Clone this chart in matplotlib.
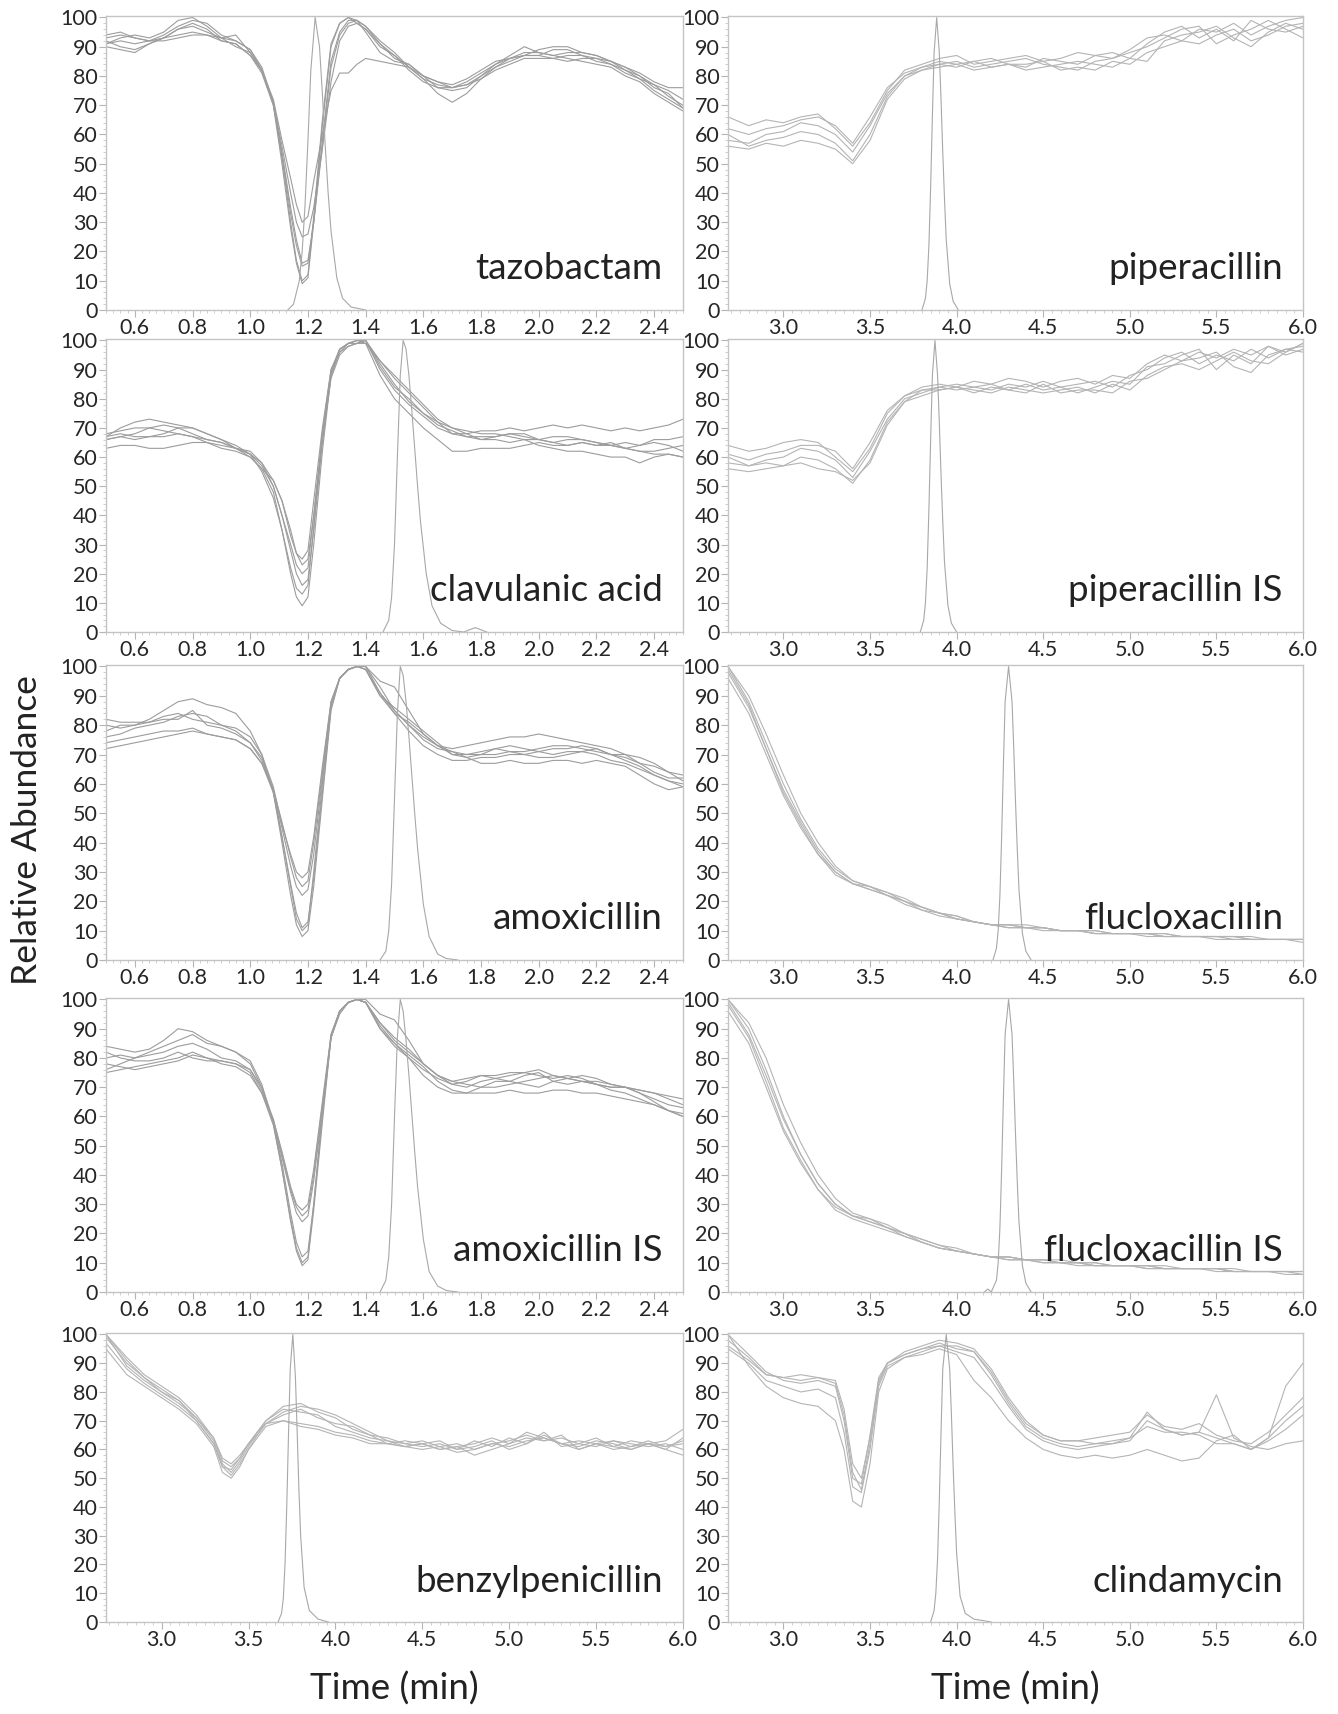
import numpy as np
import matplotlib
matplotlib.use("Agg")
import matplotlib.pyplot as plt
from matplotlib.ticker import MultipleLocator

plt.rcParams['font.family'] = ['Lato', 'DejaVu Sans']

# time grids (min)
t_early = [0.50, 0.55, 0.60, 0.65, 0.70, 0.75, 0.80, 0.85, 0.90, 0.95, 1.00, 1.04, 1.08, 1.11, 1.14, 1.16,
           1.18, 1.20, 1.22, 1.25, 1.28, 1.31, 1.34, 1.37, 1.40, 1.45, 1.50, 1.55, 1.60, 1.65, 1.70, 1.75,
           1.80, 1.85, 1.90, 1.95, 2.00, 2.05, 2.10, 2.15, 2.20, 2.25, 2.30, 2.35, 2.40, 2.45, 2.50]
t_late = [2.68, 2.8, 2.9, 3.0, 3.1, 3.2, 3.3, 3.4, 3.5, 3.6, 3.7, 3.8, 3.9, 4.0, 4.1, 4.2, 4.3, 4.4,
          4.5, 4.6, 4.7, 4.8, 4.9, 5.0, 5.1, 5.2, 5.3, 5.4, 5.5, 5.6, 5.7, 5.8, 5.9, 6.0]
t_dip = [2.68, 2.8, 2.9, 3.0, 3.1, 3.2, 3.3, 3.35, 3.4, 3.45, 3.5, 3.55, 3.6, 3.7, 3.8, 3.9, 4.0, 4.1,
         4.2, 4.3, 4.4, 4.5, 4.6, 4.7, 4.8, 4.9, 5.0, 5.1, 5.2, 5.3, 5.4, 5.5, 5.6, 5.7, 5.8, 5.9, 6.0]

# tazobactam matrix-effect traces
tazo = [
    [91, 93, 94, 93, 95, 99, 100, 97, 93, 94, 88, 82, 70, 50, 28, 16, 9, 11, 30, 63, 90, 98, 100, 99, 95, 88, 85, 84, 80, 76, 75, 76, 80, 84, 87, 90, 88, 87, 86, 85, 84, 83, 80, 78, 74, 71, 68],
    [94, 95, 93, 92, 94, 97, 99, 98, 94, 92, 89, 83, 71, 52, 30, 17, 10, 12, 32, 65, 91, 98, 100, 98, 96, 90, 87, 82, 78, 76, 76, 78, 81, 84, 86, 87, 89, 90, 90, 88, 87, 85, 83, 80, 77, 73, 70],
    [92, 90, 89, 91, 93, 96, 98, 96, 92, 91, 87, 81, 70, 53, 33, 22, 15, 16, 30, 58, 85, 95, 99, 99, 97, 91, 86, 84, 80, 78, 77, 79, 82, 85, 86, 88, 88, 87, 88, 88, 87, 85, 82, 80, 76, 74, 69],
    [90, 89, 88, 91, 93, 96, 97, 95, 93, 90, 88, 82, 71, 54, 35, 24, 16, 17, 30, 56, 83, 94, 98, 99, 97, 92, 88, 83, 79, 74, 71, 74, 79, 83, 85, 87, 87, 86, 85, 86, 86, 84, 81, 79, 77, 75, 72],
    [93, 94, 93, 92, 93, 94, 95, 94, 92, 91, 87, 82, 71, 56, 40, 30, 25, 26, 35, 55, 78, 92, 97, 98, 96, 91, 87, 83, 79, 77, 76, 77, 80, 83, 86, 87, 87, 89, 89, 87, 85, 84, 82, 79, 75, 72, 69],
    [91, 92, 91, 92, 92, 93, 94, 94, 93, 92, 89, 82, 72, 58, 45, 36, 30, 32, 44, 60, 75, 81, 81, 84, 86, 85, 84, 83, 80, 78, 76, 77, 79, 82, 84, 86, 86, 86, 87, 87, 86, 85, 83, 81, 78, 76, 76],
]
tazo_peak_t = [1.13, 1.15, 1.17, 1.18, 1.19, 1.20, 1.21, 1.225, 1.24, 1.25, 1.26, 1.27, 1.28, 1.30, 1.32, 1.35, 1.40]
tazo_peak_y = [0, 2, 10, 20, 36, 58, 82, 100, 90, 74, 56, 40, 27, 11, 4, 1, 0]

clav = [
    [68, 69, 70, 70, 69, 68, 67, 65, 63, 62, 60, 56, 48, 35, 20, 12, 9, 12, 30, 62, 88, 97, 99, 100, 100, 90, 83, 78, 74, 70, 68, 67, 66, 66, 65, 66, 64, 63, 62, 62, 61, 60, 60, 58, 60, 61, 60],
    [66, 67, 68, 70, 71, 70, 68, 66, 65, 63, 62, 58, 50, 40, 28, 20, 16, 18, 35, 65, 88, 96, 99, 100, 100, 91, 84, 80, 75, 71, 69, 67, 67, 67, 68, 67, 66, 65, 64, 65, 64, 65, 63, 62, 62, 63, 64],
    [67, 70, 72, 73, 72, 71, 70, 68, 66, 63, 61, 57, 50, 40, 30, 23, 20, 22, 40, 68, 89, 97, 99, 99, 100, 92, 85, 79, 75, 72, 70, 69, 68, 68, 67, 66, 66, 67, 67, 66, 65, 64, 65, 64, 66, 66, 67],
    [63, 64, 64, 63, 63, 64, 65, 65, 64, 63, 60, 56, 52, 45, 35, 27, 23, 25, 40, 66, 87, 95, 98, 99, 100, 93, 87, 82, 77, 72, 68, 68, 69, 69, 70, 69, 70, 71, 70, 71, 70, 69, 70, 69, 70, 71, 73],
    [66, 67, 66, 67, 68, 70, 70, 68, 66, 64, 61, 58, 52, 45, 33, 27, 25, 28, 45, 70, 90, 96, 98, 99, 99, 93, 88, 83, 78, 73, 70, 68, 66, 67, 68, 68, 66, 65, 66, 66, 65, 64, 63, 64, 65, 64, 62],
    [67, 68, 67, 67, 67, 68, 67, 66, 65, 63, 61, 55, 46, 35, 22, 15, 13, 16, 36, 68, 90, 97, 99, 100, 99, 88, 80, 75, 70, 66, 62, 62, 63, 63, 63, 64, 65, 64, 64, 65, 64, 64, 63, 62, 61, 61, 60],
]
clav_peak_t = [1.46, 1.48, 1.49, 1.50, 1.51, 1.52, 1.53, 1.54, 1.55, 1.56, 1.57, 1.58, 1.59, 1.61, 1.63, 1.66, 1.70, 1.74, 1.78, 1.82]
clav_peak_y = [0, 4, 12, 30, 60, 88, 100, 97, 88, 76, 63, 50, 38, 20, 9, 3, 0.5, 0, 1.5, 0]

amox = [
    [80, 79, 80, 82, 85, 88, 89, 87, 86, 84, 78, 70, 57, 40, 22, 12, 8, 10, 25, 55, 85, 96, 99, 100, 100, 93, 85, 80, 76, 73, 72, 73, 74, 75, 76, 76, 77, 76, 75, 74, 73, 72, 70, 67, 64, 62, 62],
    [76, 77, 79, 80, 81, 83, 84, 83, 80, 78, 74, 69, 58, 42, 26, 16, 11, 13, 28, 57, 86, 96, 99, 100, 99, 90, 84, 81, 77, 73, 70, 70, 71, 72, 71, 70, 71, 72, 72, 73, 72, 70, 69, 67, 66, 64, 63],
    [78, 80, 80, 81, 82, 82, 85, 80, 79, 77, 74, 68, 58, 45, 32, 25, 22, 24, 36, 62, 87, 96, 99, 100, 100, 95, 93, 85, 77, 73, 71, 69, 70, 72, 73, 72, 71, 70, 71, 71, 72, 70, 68, 66, 63, 61, 60],
    [74, 75, 76, 77, 78, 78, 79, 77, 76, 75, 72, 67, 58, 47, 35, 28, 25, 27, 40, 64, 88, 96, 99, 100, 100, 91, 84, 78, 73, 70, 68, 68, 69, 69, 70, 70, 69, 69, 70, 71, 70, 68, 67, 65, 63, 61, 59],
    [72, 73, 74, 75, 76, 77, 78, 77, 76, 75, 72, 67, 57, 42, 25, 14, 10, 12, 30, 60, 87, 96, 99, 100, 99, 91, 85, 80, 75, 72, 71, 70, 70, 70, 71, 71, 72, 73, 73, 72, 71, 70, 70, 69, 67, 64, 61],
    [82, 81, 81, 81, 83, 84, 82, 81, 80, 79, 76, 70, 59, 46, 36, 30, 28, 30, 42, 66, 88, 96, 99, 100, 99, 90, 86, 82, 78, 74, 70, 69, 67, 67, 68, 67, 67, 68, 68, 67, 68, 67, 66, 63, 60, 58, 59],
]
amox_peak_t = [1.45, 1.47, 1.48, 1.49, 1.50, 1.51, 1.52, 1.53, 1.54, 1.55, 1.56, 1.57, 1.58, 1.60, 1.62, 1.65, 1.68, 1.72]
amox_peak_y = [0, 3, 10, 26, 55, 84, 100, 97, 88, 76, 63, 50, 38, 19, 8, 2, 0.5, 0]

amox_is = [
    [84, 83, 82, 83, 86, 90, 89, 86, 84, 82, 79, 71, 58, 42, 24, 14, 9, 11, 28, 58, 87, 96, 99, 100, 99, 92, 86, 82, 78, 74, 72, 73, 74, 74, 75, 75, 76, 74, 73, 74, 73, 71, 70, 68, 66, 64, 63],
    [80, 81, 80, 82, 84, 86, 88, 85, 84, 82, 78, 70, 58, 44, 27, 17, 12, 14, 30, 60, 87, 96, 99, 100, 99, 90, 84, 80, 76, 73, 71, 72, 74, 73, 72, 74, 75, 72, 71, 72, 72, 71, 70, 69, 68, 67, 66],
    [76, 78, 80, 81, 82, 84, 85, 83, 80, 79, 76, 69, 58, 46, 34, 27, 24, 26, 38, 62, 87, 96, 99, 100, 100, 95, 93, 86, 78, 74, 71, 70, 72, 73, 74, 75, 74, 73, 74, 73, 71, 70, 70, 68, 65, 62, 60],
    [75, 76, 77, 78, 79, 80, 82, 80, 78, 77, 74, 68, 59, 48, 36, 30, 28, 30, 42, 65, 88, 96, 99, 100, 99, 91, 85, 80, 74, 70, 68, 68, 70, 72, 72, 71, 70, 72, 73, 72, 71, 69, 68, 66, 64, 62, 61],
    [78, 77, 76, 77, 78, 79, 81, 80, 79, 78, 75, 68, 57, 42, 25, 15, 10, 12, 30, 62, 88, 96, 99, 100, 99, 92, 87, 83, 78, 74, 72, 71, 70, 70, 71, 72, 73, 74, 73, 72, 71, 70, 70, 69, 68, 66, 64],
    [82, 80, 79, 79, 80, 82, 80, 79, 79, 78, 76, 70, 59, 47, 35, 29, 26, 28, 40, 64, 87, 95, 99, 100, 99, 90, 85, 81, 77, 72, 69, 68, 68, 68, 69, 68, 68, 69, 69, 68, 68, 67, 66, 65, 64, 62, 60],
]
amox_is_peak_t = [1.45, 1.47, 1.48, 1.49, 1.50, 1.51, 1.52, 1.53, 1.54, 1.55, 1.56, 1.57, 1.58, 1.60, 1.62, 1.65, 1.68, 1.72]
amox_is_peak_y = [0, 4, 12, 30, 60, 87, 100, 96, 86, 74, 61, 48, 36, 18, 7, 2, 0.5, 0]

benzyl = [
    [100, 92, 86, 82, 78, 72, 64, 56, 54, 57, 62, 66, 70, 74, 73, 72, 68, 66, 64, 63, 62, 61, 62, 60, 63, 61, 64, 62, 65, 62, 61, 63, 62, 60, 62, 61, 63],
    [99, 90, 85, 81, 77, 71, 63, 55, 52, 56, 61, 66, 70, 75, 76, 73, 71, 67, 65, 64, 62, 63, 61, 62, 60, 62, 63, 65, 63, 64, 62, 61, 63, 62, 61, 62, 60],
    [97, 88, 83, 79, 75, 70, 62, 54, 53, 57, 62, 65, 69, 72, 74, 71, 69, 68, 65, 62, 63, 62, 60, 61, 62, 64, 62, 66, 64, 62, 63, 62, 61, 63, 62, 60, 64],
    [95, 86, 82, 78, 74, 69, 61, 52, 50, 54, 60, 64, 68, 70, 69, 68, 66, 65, 63, 62, 61, 60, 61, 59, 60, 62, 61, 63, 64, 62, 60, 62, 63, 61, 62, 60, 58],
    [100, 89, 84, 80, 76, 71, 64, 57, 55, 58, 62, 66, 69, 70, 68, 67, 65, 64, 62, 62, 61, 62, 63, 60, 61, 63, 60, 62, 66, 61, 62, 64, 61, 60, 62, 63, 67],
    [100, 91, 85, 80, 77, 70, 62, 54, 51, 55, 60, 65, 69, 73, 75, 74, 72, 69, 66, 63, 61, 62, 60, 61, 58, 60, 62, 64, 63, 65, 60, 62, 60, 61, 63, 61, 62],
]
benzyl_peak_t = [3.67, 3.69, 3.70, 3.71, 3.72, 3.73, 3.74, 3.755, 3.77, 3.78, 3.79, 3.80, 3.82, 3.85, 3.90, 3.96]
benzyl_peak_y = [0, 3, 8, 20, 40, 65, 88, 100, 85, 66, 46, 30, 12, 4, 1, 0]

pip = [
    [66, 63, 65, 64, 66, 67, 62, 56, 64, 75, 82, 84, 86, 87, 84, 85, 86, 87, 85, 86, 88, 87, 86, 89, 93, 94, 92, 96, 95, 98, 94, 97, 99, 100],
    [62, 60, 62, 63, 65, 66, 63, 57, 66, 76, 81, 83, 85, 84, 85, 86, 84, 83, 86, 85, 84, 87, 88, 86, 91, 95, 97, 93, 96, 92, 99, 96, 95, 97],
    [58, 57, 60, 61, 64, 63, 60, 54, 63, 74, 80, 82, 84, 85, 83, 84, 85, 86, 84, 83, 82, 85, 86, 88, 90, 93, 96, 97, 91, 94, 96, 99, 96, 93],
    [60, 56, 58, 59, 61, 60, 57, 51, 60, 73, 80, 83, 84, 83, 85, 83, 84, 82, 83, 84, 85, 84, 83, 86, 85, 92, 94, 95, 97, 93, 90, 95, 98, 96],
    [56, 55, 57, 56, 58, 57, 55, 50, 58, 72, 79, 82, 83, 84, 82, 83, 84, 84, 85, 82, 83, 82, 85, 84, 88, 90, 92, 91, 94, 96, 92, 94, 97, 98],
]
pip_peak_t = [3.80, 3.82, 3.83, 3.84, 3.85, 3.86, 3.87, 3.885, 3.90, 3.91, 3.92, 3.93, 3.94, 3.96, 3.98, 4.01]
pip_peak_y = [0, 4, 10, 22, 42, 66, 88, 100, 88, 72, 54, 38, 24, 9, 3, 0]

pip_is = [
    [64, 62, 63, 65, 66, 65, 60, 55, 63, 75, 81, 84, 85, 84, 86, 85, 87, 86, 84, 86, 87, 85, 88, 87, 92, 95, 93, 96, 94, 97, 95, 98, 96, 99],
    [61, 59, 61, 62, 64, 64, 62, 56, 65, 76, 81, 83, 84, 85, 84, 83, 85, 84, 86, 84, 85, 86, 84, 88, 90, 94, 96, 92, 95, 93, 97, 94, 97, 96],
    [58, 57, 59, 60, 63, 62, 59, 53, 62, 73, 80, 82, 84, 83, 84, 85, 83, 85, 83, 84, 82, 84, 86, 85, 91, 92, 95, 97, 90, 95, 92, 98, 95, 97],
    [60, 57, 58, 57, 60, 59, 56, 51, 59, 72, 79, 83, 83, 84, 82, 84, 83, 82, 85, 82, 83, 83, 82, 86, 87, 90, 93, 94, 96, 91, 89, 95, 97, 98],
    [56, 55, 56, 57, 58, 56, 55, 52, 58, 71, 79, 81, 83, 84, 83, 82, 84, 83, 82, 83, 84, 82, 85, 83, 88, 91, 92, 90, 93, 96, 93, 92, 96, 99],
]
pip_is_peak_t = [3.79, 3.81, 3.82, 3.83, 3.84, 3.85, 3.86, 3.875, 3.89, 3.90, 3.91, 3.92, 3.93, 3.95, 3.97, 4.00]
pip_is_peak_y = [0, 4, 10, 22, 42, 66, 88, 100, 88, 72, 54, 38, 24, 9, 3, 0]

fluclox = [
    [100, 88, 74, 60, 48, 38, 31, 27, 25, 23, 20, 18, 16, 15, 13, 12, 12, 11, 11, 10, 10, 10, 9, 9, 9, 9, 8, 8, 8, 8, 7, 7, 7, 7],
    [98, 86, 72, 58, 47, 37, 30, 26, 24, 22, 20, 17, 16, 14, 13, 12, 11, 11, 10, 10, 10, 9, 9, 9, 9, 8, 8, 8, 8, 7, 7, 7, 7, 7],
    [96, 84, 70, 56, 45, 36, 29, 26, 24, 22, 19, 17, 15, 14, 13, 12, 12, 11, 11, 10, 10, 9, 9, 9, 8, 8, 8, 8, 7, 7, 7, 7, 7, 7],
    [100, 90, 77, 63, 50, 40, 32, 27, 25, 23, 21, 18, 16, 15, 13, 12, 12, 12, 11, 10, 10, 10, 9, 9, 9, 9, 8, 8, 8, 8, 8, 7, 7, 7],
    [99, 87, 72, 57, 46, 36, 30, 26, 25, 22, 20, 18, 16, 14, 13, 12, 11, 11, 11, 10, 10, 9, 9, 9, 9, 8, 8, 8, 8, 8, 7, 7, 7, 6],
]
fluclox_peak_t = [4.21, 4.23, 4.24, 4.25, 4.26, 4.27, 4.28, 4.30, 4.32, 4.33, 4.34, 4.35, 4.36, 4.38, 4.40, 4.43]
fluclox_peak_y = [0, 4, 10, 22, 42, 66, 88, 100, 88, 72, 54, 38, 24, 9, 3, 0]

fluclox_is = [
    [100, 90, 76, 60, 47, 37, 30, 26, 24, 22, 20, 17, 15, 14, 13, 12, 12, 11, 11, 10, 10, 9, 9, 9, 9, 8, 8, 8, 8, 7, 7, 7, 7, 7],
    [98, 87, 72, 56, 45, 35, 28, 25, 23, 21, 19, 17, 15, 14, 13, 12, 11, 11, 10, 10, 10, 9, 9, 9, 8, 8, 8, 8, 8, 7, 7, 7, 7, 6],
    [100, 92, 80, 64, 51, 40, 32, 27, 25, 23, 20, 18, 16, 14, 13, 12, 12, 11, 11, 11, 10, 10, 9, 9, 9, 8, 8, 8, 8, 8, 7, 7, 7, 7],
    [96, 85, 70, 55, 44, 35, 29, 26, 24, 22, 19, 17, 15, 14, 13, 12, 11, 11, 10, 10, 9, 9, 9, 9, 8, 8, 8, 8, 7, 7, 7, 7, 6, 6],
    [99, 88, 74, 59, 47, 37, 30, 26, 25, 22, 20, 18, 16, 15, 13, 12, 12, 11, 11, 10, 10, 10, 9, 9, 9, 9, 8, 8, 8, 7, 7, 7, 7, 7],
]
fluclox_is_peak_t = [4.16, 4.18, 4.20, 4.23, 4.24, 4.25, 4.26, 4.27, 4.28, 4.30, 4.32, 4.33, 4.34, 4.35, 4.36, 4.38, 4.40, 4.43]
fluclox_is_peak_y = [0, 1, 0, 4, 10, 22, 42, 66, 88, 100, 88, 72, 54, 38, 24, 9, 3, 0]

clinda = [
    [100, 93, 87, 84, 83, 84, 82, 70, 50, 48, 65, 85, 90, 93, 95, 97, 95, 94, 86, 76, 68, 64, 62, 61, 62, 62, 64, 68, 66, 66, 65, 62, 62, 60, 64, 70, 75],
    [98, 92, 86, 85, 86, 85, 83, 72, 52, 46, 62, 83, 90, 94, 96, 98, 97, 95, 88, 78, 70, 65, 63, 63, 64, 65, 66, 72, 68, 67, 69, 65, 63, 62, 66, 72, 78],
    [95, 90, 84, 82, 80, 81, 78, 66, 47, 45, 60, 82, 89, 92, 94, 96, 94, 92, 84, 75, 67, 63, 61, 60, 61, 62, 63, 70, 67, 65, 66, 64, 62, 60, 63, 67, 72],
    [100, 89, 82, 78, 76, 75, 70, 60, 42, 40, 55, 80, 88, 92, 93, 95, 93, 84, 78, 70, 64, 60, 58, 57, 58, 57, 58, 60, 58, 56, 57, 63, 65, 60, 64, 82, 90],
    [96, 91, 86, 85, 84, 85, 84, 74, 55, 50, 64, 84, 90, 93, 95, 96, 96, 94, 87, 77, 69, 65, 63, 63, 62, 63, 64, 73, 67, 65, 66, 79, 64, 61, 60, 62, 63],
]
clinda_peak_t = [3.85, 3.87, 3.88, 3.89, 3.90, 3.91, 3.92, 3.94, 3.96, 3.97, 3.98, 3.99, 4.00, 4.02, 4.05, 4.10, 4.20]
clinda_peak_y = [0, 4, 10, 22, 42, 66, 88, 100, 88, 72, 54, 38, 24, 9, 3, 1, 0]

W, H = 1338, 1714
fig = plt.figure(figsize=(W / 100, H / 100), dpi=100)

cols = [(106, 683), (728, 1303)]
rows = [(16, 310), (339, 632), (665, 960), (998, 1292), (1333, 1622)]

panels = [
    # (row, col, x, traces, peak t, peak y, name, early?)
    (0, 0, t_early, tazo, tazo_peak_t, tazo_peak_y, 'tazobactam', True),
    (1, 0, t_early, clav, clav_peak_t, clav_peak_y, 'clavulanic acid', True),
    (2, 0, t_early, amox, amox_peak_t, amox_peak_y, 'amoxicillin', True),
    (3, 0, t_early, amox_is, amox_is_peak_t, amox_is_peak_y, 'amoxicillin IS', True),
    (4, 0, t_dip, benzyl, benzyl_peak_t, benzyl_peak_y, 'benzylpenicillin', False),
    (0, 1, t_late, pip, pip_peak_t, pip_peak_y, 'piperacillin', False),
    (1, 1, t_late, pip_is, pip_is_peak_t, pip_is_peak_y, 'piperacillin IS', False),
    (2, 1, t_late, fluclox, fluclox_peak_t, fluclox_peak_y, 'flucloxacillin', False),
    (3, 1, t_late, fluclox_is, fluclox_is_peak_t, fluclox_is_peak_y, 'flucloxacillin IS', False),
    (4, 1, t_dip, clinda, clinda_peak_t, clinda_peak_y, 'clindamycin', False),
]

for r, c, x, traces, pt, py, name, early in panels:
    x0, x1 = cols[c]
    y0, y1 = rows[r]
    ax = fig.add_axes([x0 / W, 1 - y1 / H, (x1 - x0) / W, (y1 - y0) / H])
    trace_col = '#9c9c9c' if early else '#b4b4b4'
    for tr in traces:
        ax.plot(x, tr, color=trace_col, lw=0.8)
    ax.plot(pt, py, color='#a8a8a8', lw=0.8)

    if early:
        ax.set_xlim(0.5, 2.5)
        ax.set_xticks([0.6, 0.8, 1.0, 1.2, 1.4, 1.6, 1.8, 2.0, 2.2, 2.4])
        ax.xaxis.set_minor_locator(MultipleLocator(0.025))
    else:
        ax.set_xlim(2.68, 6.0)
        ax.set_xticks([3.0, 3.5, 4.0, 4.5, 5.0, 5.5, 6.0])
        ax.xaxis.set_minor_locator(MultipleLocator(0.05))
    ax.xaxis.set_major_formatter(matplotlib.ticker.FormatStrFormatter('%.1f'))
    ax.set_ylim(0, 100.5)
    ax.set_yticks(range(0, 101, 10))
    ax.yaxis.set_minor_locator(MultipleLocator(2))

    for s in ax.spines.values():
        s.set_color('#c4c4c4')
        s.set_linewidth(1)
    ax.tick_params(which='major', direction='out', length=5, width=0.8, color='#b5b5b5',
                   labelsize=15.5, labelcolor='#262626', pad=1)
    ax.tick_params(which='minor', direction='out', length=2.5, width=0.6, color='#c8c8c8')

    ax.text(0.965, 0.14, name, transform=ax.transAxes, ha='right', va='center',
            fontsize=26.5, color='#222222')

fig.text(27 / W, 1 - 830 / H, 'Relative Abundance', rotation=90, ha='center', va='center',
         fontsize=25.5, color='#222222')
fig.text((cols[0][0] + cols[0][1]) / 2 / W, 1 - 1689 / H, 'Time (min)', ha='center', va='center',
         fontsize=26.5, color='#222222')
fig.text((cols[1][0] + cols[1][1]) / 2 / W, 1 - 1689 / H, 'Time (min)', ha='center', va='center',
         fontsize=26.5, color='#222222')

fig.savefig('out.png', dpi=100, facecolor='white')
